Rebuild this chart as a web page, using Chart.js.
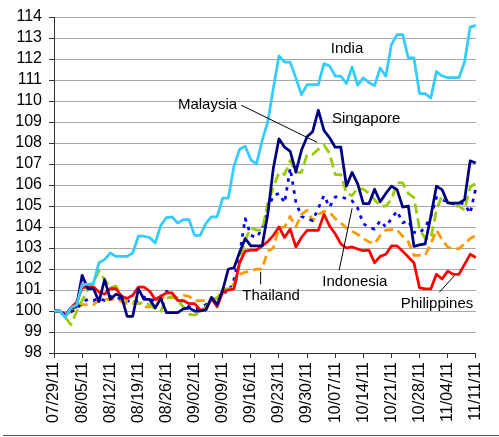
<!DOCTYPE html>
<html>
<head>
<meta charset="utf-8">
<script src="https://cdn.jsdelivr.net/npm/chart.js@4.4.0/dist/chart.umd.min.js"></script>
<style>
  html, body { margin: 0; padding: 0; background: #fff; }
  #wrap { width: 499px; height: 437px; }
</style>
</head>
<body>
<div id="wrap"><canvas id="chart" width="499" height="437"></canvas></div>
<script>
// business days, one label per week is shown on the axis
const dates = [
  '07/29/11',
  '08/01/11', '08/02/11', '08/03/11', '08/04/11', '08/05/11',
  '08/08/11', '08/09/11', '08/10/11', '08/11/11', '08/12/11',
  '08/15/11', '08/16/11', '08/17/11', '08/18/11', '08/19/11',
  '08/22/11', '08/23/11', '08/24/11', '08/25/11', '08/26/11',
  '08/29/11', '08/30/11', '08/31/11', '09/01/11', '09/02/11',
  '09/05/11', '09/06/11', '09/07/11', '09/08/11', '09/09/11',
  '09/12/11', '09/13/11', '09/14/11', '09/15/11', '09/16/11',
  '09/19/11', '09/20/11', '09/21/11', '09/22/11', '09/23/11',
  '09/26/11', '09/27/11', '09/28/11', '09/29/11', '09/30/11',
  '10/03/11', '10/04/11', '10/05/11', '10/06/11', '10/07/11',
  '10/10/11', '10/11/11', '10/12/11', '10/13/11', '10/14/11',
  '10/17/11', '10/18/11', '10/19/11', '10/20/11', '10/21/11',
  '10/24/11', '10/25/11', '10/26/11', '10/27/11', '10/28/11',
  '10/31/11', '11/01/11', '11/02/11', '11/03/11', '11/04/11',
  '11/07/11', '11/08/11', '11/09/11', '11/10/11', '11/11/11'
];

const india = [
  100, 100, 99.7, 100.15, 100.27, 101.27, 101.27, 101.3, 102.3, 102.45,
  102.76, 102.6, 102.6, 102.6, 102.76, 103.56, 103.56, 103.5, 103.24, 104.08,
  104.45, 104.48, 104.19, 104.35, 104.35, 103.6, 103.6, 104.17, 104.48, 104.48,
  105.38, 105.38, 106.9, 107.7, 107.85, 107.2, 107.0, 108.1, 109.0, 110.6,
  112.15, 111.85, 111.85, 111.1, 110.3, 110.78, 110.78, 110.78, 111.78, 111.67,
  111.19, 111.19, 110.83, 111.62, 110.75, 111.1, 110.88, 110.73, 111.57, 111.18,
  112.69, 113.16, 113.16, 112.05, 112.05, 110.35, 110.35, 110.14, 111.4, 111.2,
  111.11, 111.11, 111.11, 111.86, 113.52, 113.6
];
const singapore = [
  100, 100, 99.72, 100.15, 100.2, 101.7, 101.07, 101.07, 100.45, 101.5,
  100.55, 100.8, 100.7, 99.75, 99.75, 101.05, 100.55, 100.55, 100.15, 100.6,
  99.92, 99.92, 99.92, 100.1, 100.15, 100.0, 100.0, 100.05, 100.65, 100.3,
  101.0, 102.0, 102.05, 102.8, 103.45, 103.1, 103.1, 103.1, 104.6, 106.8,
  108.2, 107.8, 107.6, 106.62, 107.65, 108.3, 108.55, 109.56, 108.6, 108.25,
  107.8, 107.8, 105.95, 106.6, 106.05, 105.11, 105.11, 105.8, 105.2, 105.6,
  105.94, 105.78, 104.95, 105.0, 103.08, 103.15, 103.2, 104.5, 105.94, 105.78,
  105.15, 105.14, 105.14, 105.3, 107.15, 107.05
];
const malaysia = [
  100, 100, 99.7, 99.35, 99.95, 100.5, 101.0, 101.4, 101.9, 101.5,
  101.1, 101.2, 100.7, 100.5, 100.5, 100.35, 100.4, 100.3, 100.1, 100.0,
  100.6, 100.7, 100.5, 100.2, 99.85, 99.8, 99.95, 100.2, 100.5, 100.6,
  101.05, 101.05, 101.1, 102.3, 103.4, 103.95, 103.85, 103.85, 105.1, 105.9,
  106.6, 106.5, 107.17, 106.6, 106.6, 107.46, 107.46, 107.7, 107.9, 107.5,
  106.5, 106.5, 105.6, 105.5, 105.85, 105.8, 105.6, 105.3, 105.0, 105.0,
  105.3, 106.1, 106.1, 105.6, 105.4, 103.9, 103.45, 103.45, 104.8, 105.5,
  105.2, 105.0, 105.0, 104.8, 105.9, 106.1
];
const indonesia = [
  100, 100, 99.85, 99.95, 100.1, 100.4, 100.56, 100.5, 100.6, 100.5,
  100.7, 100.6, 100.6, 100.5, 100.4, 100.5, 100.67, 100.55, 100.5, 100.7,
  100.94, 100.7, 100.6, 100.45, 100.2, 100.1, 100.15, 100.3, 100.6, 100.5,
  100.9, 100.88, 101.5, 102.7, 104.4, 103.6, 103.5, 103.9, 104.8, 105.5,
  105.6, 105.15, 106.8, 105.2, 104.5, 104.4, 104.3, 104.9, 105.5, 104.95,
  105.43, 105.43, 105.35, 105.25, 104.9, 104.15, 104.0, 103.9, 104.3, 104.0,
  104.4, 104.76, 104.2, 104.3, 103.75, 103.7, 104.0, 104.5, 105.4, 105.3,
  105.2, 105.1, 105.15, 105.1, 104.65, 105.85
];
const thailand = [
  100, 100, 99.85, 99.95, 100.15, 100.3, 100.3, 100.3, 100.5, 100.55,
  100.55, 100.55, 100.45, 100.35, 100.35, 100.4, 100.2, 100.2, 100.5, 100.6,
  100.64, 100.64, 100.64, 100.75, 100.7, 100.5, 100.5, 100.5, 100.5, 100.65,
  100.95, 101.0, 101.3, 101.75, 101.85, 101.9, 102.0, 102.0, 102.85, 103.0,
  103.97, 104.0, 104.5, 104.0, 104.6, 104.8, 104.3, 104.6, 104.75, 104.7,
  104.4, 104.2, 103.95, 103.8, 103.65, 103.45, 103.3, 103.2, 103.6, 103.85,
  103.87, 103.87, 103.55, 103.3, 102.65, 102.65, 102.65, 103.2, 103.85, 103.4,
  103.05, 102.97, 102.97, 103.2, 103.45, 103.6
];
const philippines = [
  100, 100, 99.78, 100.15, 100.4, 101.1, 101.15, 101.15, 100.9, 100.8,
  101.07, 101.07, 100.7, 100.6, 100.75, 101.14, 101.14, 100.95, 100.55, 100.7,
  100.86, 100.86, 100.5, 100.5, 100.35, 100.35, 100.05, 100.05, 100.6, 100.2,
  100.9, 101.0, 101.05, 102.3, 102.85, 102.9, 102.9, 103.1, 103.3, 103.6,
  104.0, 103.5, 103.9, 103.05, 103.5, 103.84, 103.84, 103.84, 104.6, 104.05,
  103.68, 103.2, 103.0, 103.05, 102.95, 102.87, 102.9, 102.3, 102.6, 102.7,
  103.1, 103.1, 102.85, 102.57, 102.3, 101.1, 101.05, 101.05, 101.75, 101.52,
  101.9, 101.75, 101.75, 102.22, 102.7, 102.55
];

// y axis range
const yMin = 98;
const yMax = 114;

// text labels placed in data coordinates (category index, value)
const notes = [
  { text: 'India', x: 52.1, y: 112.5 },
  { text: 'Malaysia', x: 27.3, y: 109.8 },
  { text: 'Singapore', x: 55.5, y: 109.13 },
  { text: 'Thailand', x: 38.6, y: 100.7 },
  { text: 'Indonesia', x: 53.5, y: 101.37 },
  { text: 'Philippines', x: 68.1, y: 100.32 }
];
// leader lines: [x1, y1, x2, y2]
const leaders = [
  [33.3, 109.8, 46.8, 108.03],
  [36.74, 101.87, 36.74, 101.27],
  [50.7, 101.94, 53.0, 104.89],
  [68.5, 100.89, 71.2, 101.68]
];

const fontFamily = '"Liberation Sans", Arial, sans-serif';

const notesPlugin = {
  id: 'notes',
  afterDatasetsDraw(chart) {
    const ctx = chart.ctx;
    const xs = chart.scales.x;
    const ys = chart.scales.y;
    ctx.save();
    ctx.strokeStyle = '#000';
    ctx.lineWidth = 1;
    leaders.forEach(l => {
      ctx.beginPath();
      ctx.moveTo(xs.getPixelForValue(l[0]), ys.getPixelForValue(l[1]));
      ctx.lineTo(xs.getPixelForValue(l[2]), ys.getPixelForValue(l[3]));
      ctx.stroke();
    });
    ctx.font = '15px ' + fontFamily;
    ctx.fillStyle = '#000';
    ctx.textAlign = 'center';
    ctx.textBaseline = 'middle';
    notes.forEach(n => {
      ctx.fillText(n.text, xs.getPixelForValue(n.x), ys.getPixelForValue(n.y));
    });
    // frame edge along the bottom of the picture
    ctx.strokeStyle = '#555';
    ctx.beginPath();
    ctx.moveTo(3, chart.height - 1.5);
    ctx.lineTo(chart.width, chart.height - 1.5);
    ctx.stroke();
    ctx.restore();
  }
};

function series(label, data, color, dash) {
  return {
    label: label,
    data: data,
    borderColor: color,
    backgroundColor: color,
    borderWidth: 2.75,
    borderDash: dash || [],
    borderCapStyle: 'butt',
    borderJoinStyle: 'round',
    pointRadius: 0,
    tension: 0,
    fill: false
  };
}

new Chart(document.getElementById('chart'), {
  type: 'line',
  data: {
    labels: dates,
    datasets: [
      series('India', india, '#33CCFF'),
      series('Singapore', singapore, '#000080'),
      series('Philippines', philippines, '#FF0000'),
      series('Malaysia', malaysia, '#99CC00', [10, 5]),
      series('Indonesia', indonesia, '#0000FF', [3.5, 5.5]),
      series('Thailand', thailand, '#FF9900', [9, 5])
    ]
  },
  options: {
    responsive: false,
    animation: false,
    devicePixelRatio: 1,
    layout: { padding: { top: 17, right: 18, left: 0, bottom: 0 } },
    plugins: {
      legend: { display: false },
      tooltip: { enabled: false }
    },
    scales: {
      x: {
        offset: false,
        grid: {
          drawOnChartArea: false,
          drawTicks: true,
          tickLength: 5,
          tickColor: c => (c.index % 5 === 0 ? '#333' : 'rgba(0,0,0,0)')
        },
        border: { color: '#333', width: 1 },
        ticks: {
          autoSkip: false,
          minRotation: 90,
          maxRotation: 90,
          padding: 4,
          color: '#000',
          font: { family: fontFamily, size: 16 },
          callback: (v, i) => (i % 5 === 0 ? dates[i] : '')
        },
        afterFit: s => { s.height = 84; }
      },
      y: {
        min: yMin,
        max: yMax,
        ticks: {
          stepSize: 1,
          autoSkip: false,
          padding: 7,
          color: '#000',
          font: { family: fontFamily, size: 16 }
        },
        grid: {
          color: c => (c.tick && c.tick.value === yMin ? '#333' : '#a6a6a6'),
          tickColor: '#333',
          tickLength: 5
        },
        border: { color: '#333', width: 1 },
        afterFit: s => { s.width = 54; }
      }
    }
  },
  plugins: [notesPlugin]
});
</script>
</body>
</html>
